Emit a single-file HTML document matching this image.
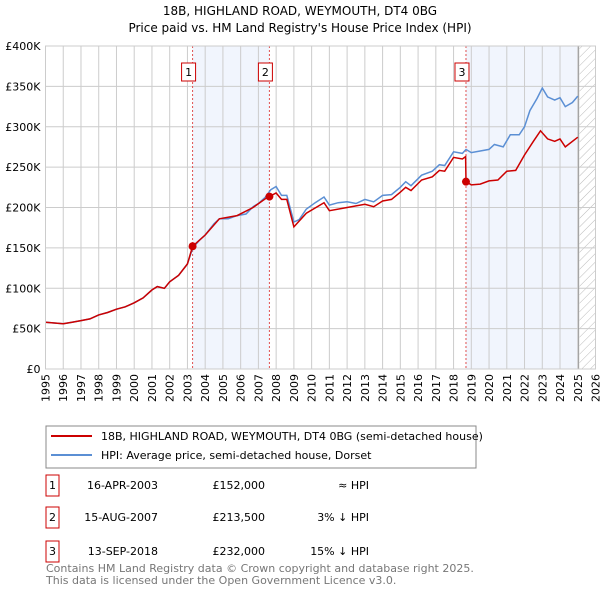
<!DOCTYPE html>
<html><head><meta charset="utf-8"><style>
body{margin:0;background:#fff;font-family:"Liberation Sans","DejaVu Sans",sans-serif;}
svg text{font-family:"DejaVu Sans","Liberation Sans",sans-serif;}
</style></head><body>
<svg width="600" height="590" xmlns="http://www.w3.org/2000/svg" id="svg">
<defs><pattern id="hatch" width="6" height="6" patternUnits="userSpaceOnUse" patternTransform="rotate(45)"><line x1="0" y1="0" x2="0" y2="6" stroke="#bbb" stroke-width="1"/></pattern></defs>
<text x="300" y="15" text-anchor="middle" font-size="12">18B, HIGHLAND ROAD, WEYMOUTH, DT4 0BG</text>
<text x="300" y="32" text-anchor="middle" font-size="12">Price paid vs. HM Land Registry's House Price Index (HPI)</text>
<g id="plot"></g>
<rect x="46" y="426" width="430" height="42" fill="#fff" stroke="#888"/>
<line x1="51" y1="436" x2="92" y2="436" stroke="#cc0000" stroke-width="2"/>
<text x="101" y="440" font-size="11">18B, HIGHLAND ROAD, WEYMOUTH, DT4 0BG (semi-detached house)</text>
<line x1="51" y1="455" x2="92" y2="455" stroke="#5b8fd4" stroke-width="2"/>
<text x="101" y="459" font-size="11">HPI: Average price, semi-detached house, Dorset</text>
<g font-size="11">
<rect x="46" y="475" width="13" height="21" fill="#fff" stroke="#cc0000"/><text x="52.5" y="489" text-anchor="middle">1</text>
<text x="158" y="489" text-anchor="end">16-APR-2003</text><text x="265" y="489" text-anchor="end">£152,000</text><text x="369" y="489" text-anchor="end">≈ HPI</text>
<rect x="46" y="507" width="13" height="21" fill="#fff" stroke="#cc0000"/><text x="52.5" y="521" text-anchor="middle">2</text>
<text x="158" y="521" text-anchor="end">15-AUG-2007</text><text x="265" y="521" text-anchor="end">£213,500</text><text x="369" y="521" text-anchor="end">3% ↓ HPI</text>
<rect x="46" y="541" width="13" height="21" fill="#fff" stroke="#cc0000"/><text x="52.5" y="555" text-anchor="middle">3</text>
<text x="158" y="555" text-anchor="end">13-SEP-2018</text><text x="265" y="555" text-anchor="end">£232,000</text><text x="369" y="555" text-anchor="end">15% ↓ HPI</text>
</g>
<text x="46" y="572" font-size="11" fill="#777">Contains HM Land Registry data © Crown copyright and database right 2025.</text>
<text x="46" y="584" font-size="11" fill="#777">This data is licensed under the Open Government Licence v3.0.</text>
</svg>
<script>
const hpiT=[1995,1995.5,1996,1996.5,1997,1997.5,1998,1998.5,1999,1999.5,2000,2000.5,2001,2001.3,2001.7,2002,2002.5,2003,2003.3,2003.7,2004,2004.5,2004.8,2005.3,2005.8,2006.3,2006.7,2007,2007.4,2007.7,2008,2008.3,2008.6,2009,2009.3,2009.7,2010.2,2010.7,2011,2011.5,2012,2012.5,2013,2013.5,2014,2014.5,2015,2015.3,2015.6,2016.2,2016.8,2017.2,2017.5,2018,2018.5,2018.7,2019,2019.5,2020,2020.3,2020.8,2021.2,2021.7,2022,2022.3,2022.7,2023,2023.3,2023.7,2024,2024.3,2024.7,2025];
const hpiV=[58,57,56,58,60,62,67,70,74,77,82,88,98,102,100,108,116,130,150,160,166,180,186,186,190,192,201,205,213,222,226,215,215,182,185,198,206,213,203,206,207,205,210,207,215,216,225,232,227,240,245,253,252,269,267,272,268,270,272,278,275,290,290,300,320,335,348,337,333,336,325,330,338];
const redT=[1995,1995.5,1996,1996.5,1997,1997.5,1998,1998.5,1999,1999.5,2000,2000.5,2001,2001.3,2001.7,2002,2002.5,2003,2003.29,2004,2004.8,2005.8,2006.7,2007.4,2007.62,2008,2008.3,2008.6,2009,2009.7,2010.7,2011,2012,2013,2013.5,2014,2014.5,2015,2015.3,2015.6,2016.2,2016.8,2017.2,2017.5,2018,2018.5,2018.68,2018.7,2019,2019.5,2020,2020.5,2021,2021.5,2022,2022.5,2022.9,2023.3,2023.7,2024,2024.3,2025];
const redV=[58,57,56,58,60,62,67,70,74,77,82,88,98,102,100,108,116,130,152,166,186,190,200,211,213.5,218,210,210,176,193,206,196,200,204,201,208,210,219,225,221,234,238,246,245,262,260,263,232,228,229,233,234,245,246,265,282,295,285,282,285,275,287];
const sales=[[2003.29,152],[2007.62,213.5],[2018.7,232]];
const saleLabels=["1","2","3"];
const yTicks=[0,50,100,150,200,250,300,350,400];
const yLabels=["£0","£50K","£100K","£150K","£200K","£250K","£300K","£350K","£400K"];
const years=[];for(let y=1995;y<=2026;y++)years.push(y);
const X0=45.5,X1=595.5,Y0=369,Y1=46;
const xs=t=>X0+(t-1995)/(2026-1995)*(X1-X0);
const ys=v=>Y0-v/400*(Y0-Y1);
const NS="http://www.w3.org/2000/svg";
const g=document.getElementById('plot');
function mk(tag,at,parent){const e=document.createElementNS(NS,tag);for(const k in at)e.setAttribute(k,at[k]);(parent||g).appendChild(e);return e;}
let e;
e=mk('rect',{x:xs(2003.29),y:Y1,width:xs(2007.62)-xs(2003.29),height:Y0-Y1,fill:'#eef3fc',opacity:0.8});


e=mk('rect',{x:xs(2018.7),y:Y1,width:xs(2025.0)-xs(2018.7),height:Y0-Y1,fill:'#eef3fc',opacity:0.8});


e=mk('rect',{x:xs(2025.1),y:Y1,width:X1-xs(2025.1),height:Y0-Y1,fill:'url(#hatch)'});


years.forEach(y=>{
 e=mk('line',{x1:xs(y),x2:xs(y),y1:Y1,y2:Y0,stroke:'#ccc','stroke-width':1});
 
 
 e=mk('text',{x:0,y:0,transform:`translate(${xs(y)+4},${Y0+5}) rotate(-90)`,'text-anchor':'end','font-size':11});
 e.textContent=y;
 
 
});
yTicks.forEach((v,i)=>{
 e=mk('line',{x1:X0,x2:X1,y1:ys(v),y2:ys(v),stroke:'#ccc','stroke-width':1});
 
 
 e=mk('text',{x:X0-5,y:ys(v)+4,'text-anchor':'end','font-size':11});
 e.textContent=yLabels[i];
 
 
});
e=mk('line',{x1:xs(2025.05),x2:xs(2025.05),y1:Y1,y2:Y0,stroke:'#999','stroke-width':1});


sales.forEach((s,i)=>{
 e=mk('line',{x1:xs(s[0]),x2:xs(s[0]),y1:Y1,y2:Y0,stroke:'#e05050','stroke-width':1,'stroke-dasharray':'2,2'});
 
 
});
const path=(T,V)=>T.map((t,i)=>(i?'L':'M')+xs(t).toFixed(1)+','+ys(V[i]).toFixed(1)).join('');
e=mk('path',{d:path(hpiT,hpiV),fill:'none',stroke:'#5b8fd4','stroke-width':1.5});


e=mk('path',{d:path(redT,redV),fill:'none',stroke:'#cc0000','stroke-width':1.5});


sales.forEach((s,i)=>{
 e=mk('circle',{cx:xs(s[0]),cy:ys(s[1]),r:4,fill:'#cc0000'});
 
 
 e=mk('rect',{x:xs(s[0])-11,y:63,width:14,height:18,fill:'#fff',stroke:'#cc0000'});
 
 
 e=mk('text',{x:xs(s[0])-4,y:76,'text-anchor':'middle','font-size':11});
 e.textContent=saleLabels[i];
 
 
});
e=mk('rect',{x:X0,y:Y1,width:X1-X0,height:Y0-Y1,fill:'none',stroke:'#ccc'});


</script>
</body></html>
